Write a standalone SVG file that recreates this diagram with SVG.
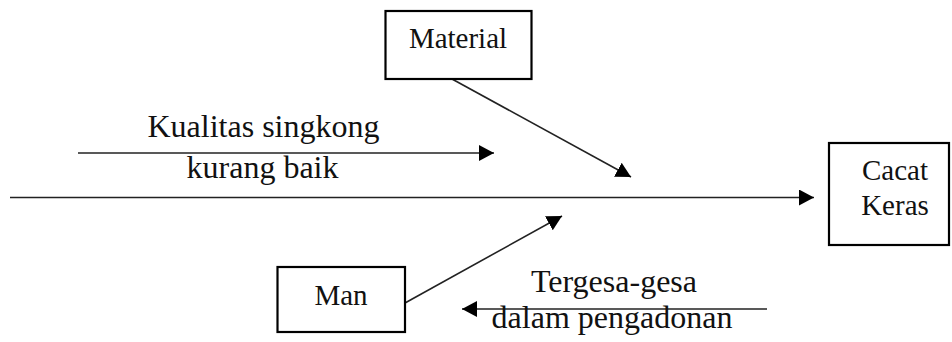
<svg xmlns="http://www.w3.org/2000/svg" width="952" height="342" viewBox="0 0 952 342">
<style>
.box{fill:#fff;stroke:#000;stroke-width:2.2}
.ln{stroke:#222;stroke-width:1.6;fill:none}
text{font-family:'Liberation Serif','Times New Roman',serif;fill:#111;text-anchor:middle}
.lbl{font-size:32px}
.blbl{font-size:29px}
</style>
<defs>
<marker id="ah" markerUnits="userSpaceOnUse" markerWidth="16" markerHeight="16" refX="15" refY="8" orient="auto">
<path d="M0,0 L15,8 L0,16 z" fill="#000"/>
</marker>
</defs>
<g id="connectors">
<line class="ln" x1="10" y1="197.5" x2="814" y2="197.5" marker-end="url(#ah)"/>
<line class="ln" x1="78" y1="153" x2="494" y2="153" marker-end="url(#ah)"/>
<line class="ln" x1="767" y1="309" x2="462" y2="309" marker-end="url(#ah)"/>
<line class="ln" x1="452" y1="79" x2="631" y2="177" marker-end="url(#ah)"/>
<line class="ln" x1="405" y1="303" x2="562" y2="216" marker-end="url(#ah)"/>
</g>
<g id="material">
<rect class="box" x="385.5" y="11" width="146" height="68"/>
<text class="blbl" x="458" y="48">Material</text>
</g>
<g id="cacat-keras">
<rect class="box" x="829" y="143" width="120" height="102"/>
<text class="blbl" x="895" y="180">Cacat</text>
<text class="blbl" x="895" y="215">Keras</text>
</g>
<g id="man">
<rect class="box" x="277.5" y="267" width="127.5" height="65"/>
<text class="blbl" x="341" y="305">Man</text>
</g>
<g id="kualitas">
<text class="lbl" x="263.5" y="137">Kualitas singkong</text>
<text class="lbl" x="262.5" y="178">kurang baik</text>
</g>
<g id="tergesa">
<text class="lbl" x="614" y="292">Tergesa-gesa</text>
<text class="lbl" x="612" y="328">dalam pengadonan</text>
</g>
</svg>
